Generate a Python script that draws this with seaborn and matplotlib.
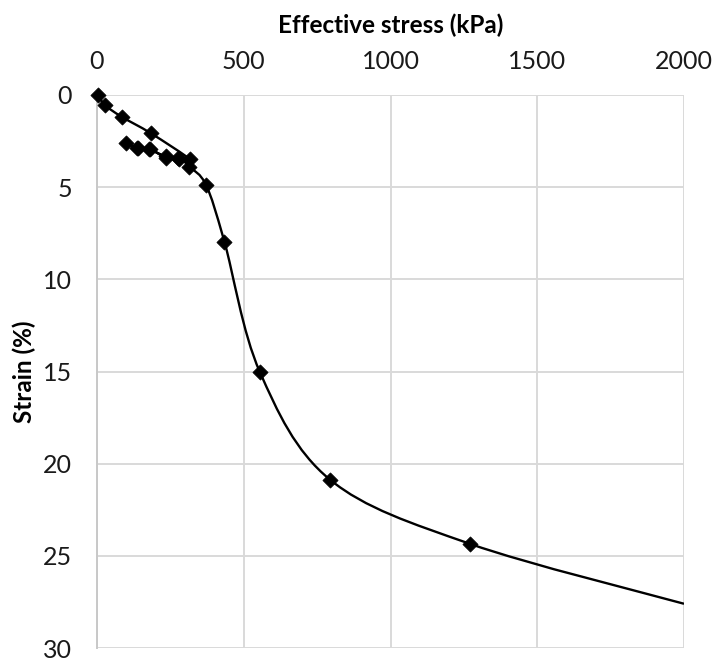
import numpy as np
import pandas as pd
import matplotlib
matplotlib.use("Agg")
import matplotlib.pyplot as plt
from matplotlib.path import Path
from matplotlib.patches import PathPatch
import seaborn as sns

# Data
stress = [4, 27, 84, 184, 317, 277, 235, 177, 137, 98,
          140, 180, 235, 280, 315, 372, 434, 555, 794, 1271, 2000]
strain = [0.0, 0.55, 1.18, 2.08, 3.49, 3.40, 3.33, 2.95, 2.87, 2.58,
          2.90, 2.93, 3.40, 3.45, 3.88, 4.90, 7.95, 15.03, 20.87, 24.35, 27.6]
has_marker = [True] * 20 + [False]

x_ticks = [0, 500, 1000, 1500, 2000]
y_ticks = [0, 5, 10, 15, 20, 25, 30]
x_label = "Effective stress (kPa)"
y_label = "Strain (%)"

df = pd.DataFrame({"stress": stress, "strain": strain, "marker": has_marker})

sns.set_theme(style="white")
plt.rcParams["font.family"] = ["Lato", "DejaVu Sans"]

fig = plt.figure(figsize=(7.14, 6.62), dpi=100)
ax = fig.add_axes([97 / 714, 1 - 648 / 662, (684 - 97) / 714, (648 - 95) / 662])

# Smoothed line (Catmull-Rom style Bezier through the data points, like Excel's smoothed line)
pts = np.column_stack([df["stress"].to_numpy(float), df["strain"].to_numpy(float)])
n = len(pts)
verts = [tuple(pts[0])]
codes = [Path.MOVETO]
for i in range(n - 1):
    p0 = pts[i - 1] if i > 0 else pts[i]
    p1 = pts[i]
    p2 = pts[i + 1]
    p3 = pts[i + 2] if i + 2 < n else pts[i + 1]
    c1 = p1 + (p2 - p0) / 6.0
    c2 = p2 - (p3 - p1) / 6.0
    verts += [tuple(c1), tuple(c2), tuple(p2)]
    codes += [Path.CURVE4] * 3
ax.add_patch(PathPatch(Path(verts, codes), facecolor="none", edgecolor="black",
                       linewidth=1.7, zorder=3, capstyle="butt", joinstyle="round"))

sns.scatterplot(data=df[df["marker"]], x="stress", y="strain", marker="D",
                s=60, color="black", edgecolor="black", linewidth=0.5,
                ax=ax, zorder=4, clip_on=False, legend=False)

ax.set_xlim(0, 2000)
ax.set_ylim(30, 0)
ax.set_xticks(x_ticks)
ax.set_yticks(y_ticks)
ax.xaxis.tick_top()
ax.xaxis.set_label_position("top")
ax.tick_params(axis="both", length=0, labelsize=18, colors="#1a1a1a")
ax.tick_params(axis="x", pad=16)
ax.tick_params(axis="y", pad=18)
ax.set_xlabel(x_label, fontsize=17.5, fontweight="bold", labelpad=12, color="black")
ax.set_ylabel(y_label, fontsize=17.5, fontweight="bold", labelpad=5, color="black")

ax.grid(True, color="#d9d9d9", linewidth=1.4)
ax.set_axisbelow(True)
for s in ["top", "right", "bottom"]:
    ax.spines[s].set_visible(False)
ax.spines["left"].set_color("#c8c8c8")
ax.spines["left"].set_linewidth(1.4)

fig.savefig("out.png", dpi=100)
